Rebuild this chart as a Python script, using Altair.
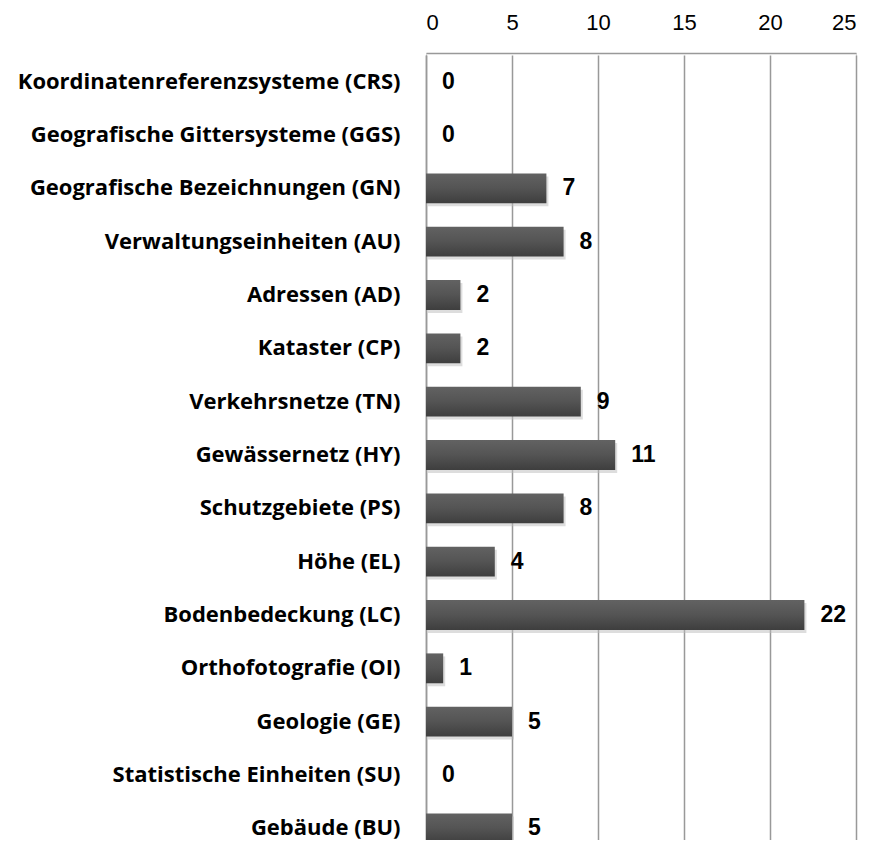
import altair as alt
import pandas as pd

categories = [
    "Koordinatenreferenzsysteme (CRS)",
    "Geografische Gittersysteme (GGS)",
    "Geografische Bezeichnungen (GN)",
    "Verwaltungseinheiten (AU)",
    "Adressen (AD)",
    "Kataster (CP)",
    "Verkehrsnetze (TN)",
    "Gewässernetz (HY)",
    "Schutzgebiete (PS)",
    "Höhe (EL)",
    "Bodenbedeckung (LC)",
    "Orthofotografie (OI)",
    "Geologie (GE)",
    "Statistische Einheiten (SU)",
    "Gebäude (BU)",
]
values = [0, 0, 7, 8, 2, 2, 9, 11, 8, 4, 22, 1, 5, 0, 5]
x_ticks = [0, 5, 10, 15, 20, 25]

df = pd.DataFrame({"cat": categories, "val": values})

y_enc = alt.Y(
    "cat:N",
    sort=None,
    title=None,
    scale=alt.Scale(paddingInner=0.44, paddingOuter=0.22, range=[2, 802]),
    axis=alt.Axis(
        labelFont="Open Sans",
        labelFontWeight="bold",
        labelFontSize=22,
        labelColor="#000000",
        labelPadding=26,
        ticks=False,
        domainColor="#999999",
        domainWidth=1.5,
        labelLimit=420,
    ),
)
x_enc = alt.X(
    "val:Q",
    title=None,
    scale=alt.Scale(domain=[0, 25], nice=False),
    axis=alt.Axis(
        orient="top",
        values=x_ticks,
        labelFont="Liberation Sans",
        labelFontSize=22,
        labelColor="#000000",
        labelPadding=19,
        ticks=False,
        grid=True,
        gridColor="#999999",
        gridWidth=1.5,
        domainColor="#999999",
        domainWidth=1.5,
    ),
)

grad = alt.Gradient(
    gradient="linear",
    stops=[
        alt.GradientStop(color="#626262", offset=0),
        alt.GradientStop(color="#545454", offset=0.5),
        alt.GradientStop(color="#3e3e3e", offset=1),
    ],
    x1=0, x2=0, y1=0, y2=1,
)

shadow = alt.Chart(df).mark_bar(color="#bbbbbb", opacity=0.5, xOffset=2, yOffset=3).encode(
    x=x_enc, y=y_enc
)
bars = alt.Chart(df).mark_bar(color=grad).encode(x=x_enc, y=y_enc)
labels = alt.Chart(df).mark_text(
    align="left",
    baseline="middle",
    dx=16,
    font="Liberation Sans",
    fontWeight="bold",
    fontSize=23,
    color="#000000",
).encode(x=x_enc, y=y_enc, text="val:Q")

chart = (
    alt.layer(shadow, bars, labels)
    .properties(
        width=430,
        height=787,
        autosize=alt.AutoSizeParams(type="none"),
        padding={"left": 418, "top": 45, "right": 8, "bottom": 0},
    )
    .configure_view(stroke=None)
    .configure(background="white")
)

chart.save("out.html", embed_options={"renderer": "svg", "actions": False})
